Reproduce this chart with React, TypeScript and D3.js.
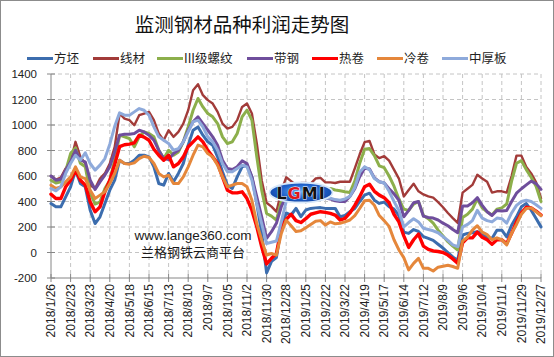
import React from "react";
import * as d3 from "d3";

// ---- categories (weekly, 2018/1/26 .. 2019/12/27) ----
const START = new Date(2018, 0, 26);
const fmtDate = d3.timeFormat("%Y/%-m/%-d");
const categories: string[] = d3.range(101).map((i) => fmtDate(d3.timeDay.offset(START, 7 * i)));
const tickStep = 4;
const yTicks = [-200, 0, 200, 400, 600, 800, 1000, 1200, 1400];

// ---- series values ----
const fangpi = [
  384, 358, 358, 436, 515, 646, 541, 515, 332, 227, 280, 384, 489, 567, 724, 698, 698, 724, 763, 763,
  750, 672, 541, 528, 620, 554, 620, 698, 842, 959, 985, 920, 868, 842, 750, 633, 528, 502, 593, 672,
  685, 593, 384, 149, -160, -70, -40, 200, 310,
  294, 346, 281, 333, 346, 350, 352, 346, 346, 346, 281, 290, 320, 346, 400, 450, 465, 410, 385, 395, 360,
  340, 290, 160, 150, 180, 165, 125, 110, 95, 65, 35, 0, -35, -60, 137, 150, 155, 163, 150, 115,
  110, 175, 175, 123, 214, 280, 358, 384, 332, 267, 201,
];
const xiancai = [
  600, 572, 588, 660, 711, 868, 750, 698, 528, 502, 580, 620, 698, 829, 1090, 1050, 1038, 998, 1077, 1090,
  1103, 1038, 933, 881, 959, 907, 946, 1011, 1116, 1273, 1320, 1234, 1195, 1168, 1103, 1011, 972, 985, 1038, 1142,
  1168, 1090, 855, 567, 390, 360, 320, 480, 590,
  560, 530, 545, 545, 540, 580, 585, 550, 550, 545, 555, 555, 555,
  660, 770, 865, 875, 770, 740, 755, 720,
  650, 580, 440, 490, 540, 480, 455, 440, 430, 395, 355, 310, 270, 232, 470, 500, 530, 610, 580, 555,
  470, 480, 480, 470, 600, 760, 760, 670, 620, 550, 425,
];
const luowen = [
  567, 545, 555, 640, 776, 820, 700, 672, 470, 380, 397, 502, 567, 724, 920, 907, 894, 829, 907, 946,
  933, 907, 802, 737, 802, 763, 789, 868, 985, 1116, 1208, 1142, 1090, 1064, 1011, 907, 855, 868, 933, 1064,
  1116, 1038, 750, 489, 306, 285, 254, 400, 500,
  505, 495, 510, 500, 490, 505, 500, 495, 502, 490, 485, 477, 470,
  560, 700, 810, 815, 760, 680, 665, 600,
  520, 420, 340, 330, 380, 400, 290, 265, 230, 175, 130, 85, 50, 20, 275, 300, 340, 420, 350, 320,
  295, 340, 350, 380, 560, 700, 720, 650, 590, 520, 400,
];
const daigang = [
  600, 567, 575, 646, 711, 802, 724, 711, 567, 494, 554, 607, 672, 789, 920, 928, 928, 933, 959, 946,
  920, 881, 802, 737, 729, 776, 802, 868, 959, 1025, 1064, 1011, 959, 907, 842, 724, 659, 651, 672, 719,
  698, 593, 436, 280, 111, 163, 229, 359, 440,
  470, 480, 470, 460, 455, 450, 445, 430, 420, 405, 400, 400, 440, 500, 595, 660, 655, 585, 555, 545, 500,
  460, 410, 280, 330, 390, 400, 285, 275, 270, 255, 230, 210, 180, 155, 365, 365, 390, 430, 370, 320,
  290, 330, 325, 330, 400, 465, 500, 530, 560, 540, 495,
];
const rejuan = [
  457, 423, 423, 515, 567, 646, 567, 528, 397, 319, 358, 476, 567, 690, 830, 845, 850, 860, 920, 905,
  880, 810, 763, 724, 763, 672, 698, 750, 829, 868, 907, 868, 802, 750, 698, 593, 489, 468, 468, 476,
  423, 332, 201, 44, -90, -45, -8, 190, 260,
  300, 250, 235, 265, 300, 310, 320, 315, 307, 294, 255, 268, 310, 370, 438, 516, 535, 480, 450, 430, 390,
  300, 240, 130, 40, 100, 145, 50, 25, 12, 8, 0, -20, -50, -85, 75, 115, 115, 160, 120, 100,
  65, 100, 100, 70, 150, 240, 310, 355, 350, 325, 293,
];
const lengjuan = [
  528, 502, 515, 554, 593, 672, 593, 580, 489, 423, 450, 476, 541, 620, 724, 698, 693, 703, 737, 755,
  745, 698, 620, 593, 606, 541, 541, 593, 672, 763, 842, 829, 776, 750, 685, 593, 515, 528, 541, 541,
  515, 410, 227, 97, -21, -8, -21, 149, 254,
  210, 165, 170, 195, 220, 245, 250, 215, 240, 225, 230, 240, 255, 290, 345, 405, 410, 370, 290, 250, 205,
  100, 20, -40, -137, -85, -46, -124, -124, -145, -115, -108, -100, -110, -124, 90, 120, 175, 210, 160, 140,
  100, 115, 100, 60, 150, 220, 300, 345, 350, 320, 290,
];
const zhonghouban = [
  502, 484, 515, 620, 698, 763, 724, 782, 698, 646, 685, 737, 850, 990, 1095, 1077, 1077, 1103, 1129, 1116,
  1077, 985, 907, 881, 855, 802, 815, 868, 946, 1025, 1038, 985, 907, 868, 802, 698, 633, 633, 659, 685,
  672, 567, 384, 227, 70, 80, 90, 240, 400,
  440, 450, 445, 440, 440, 435, 430, 425, 425, 415, 410, 420, 440, 510, 630, 672, 650, 580, 555, 545, 480,
  400, 330, 200, 235, 265, 240, 190, 180, 170, 155, 125, 95, 60, 46, 200, 220, 250, 330, 270, 250,
  240, 270, 265, 230, 310, 370, 400, 410, 400, 375, 346,
];

const seriesNames = ["方坯", "线材", "III级螺纹", "带钢", "热卷", "冷卷", "中厚板"];
const seriesValues = [fangpi, xiancai, luowen, daigang, rejuan, lengjuan, zhonghouban];
const seriesColors = ["#3C6DAE", "#A23B39", "#8CAF4B", "#6F4E9C", "#FF0000", "#E5873B", "#8EAADB"];
const seriesWidths = [3, 2.4, 3, 3, 3.4, 3, 3];

const W = 554;
const H = 357;
const LEFT = 51;
const RIGHT = 541;
const TOP = 74;
const BOTTOM = 278;
const legendX = [27, 93, 157, 247, 312, 377, 442];

const CJK = "'Noto Sans CJK SC', 'Noto Sans', sans-serif";
const LATIN = "'Liberation Sans', Arial, sans-serif";

export default function App() {
  const x = d3.scalePoint<string>().domain(categories).range([LEFT, RIGHT]);
  const y = d3.scaleLinear().domain([-200, 1400]).range([BOTTOM, TOP]);
  const line = d3
    .line<number>()
    .x((_, i) => x(categories[i]) as number)
    .y((d) => y(d));

  const tickCats = categories.filter((_, i) => i % tickStep === 0);

  return (
    <svg
      width={W}
      height={H}
      viewBox={`0 0 ${W} ${H}`}
      style={{ position: "absolute", left: 0, top: 0, background: "#fff" }}
    >
      <defs>
        <radialGradient id="lgmi" cx="50%" cy="45%" r="60%">
          <stop offset="0" stopColor="#6fb0f5" />
          <stop offset="0.55" stopColor="#1f62cc" />
          <stop offset="1" stopColor="#0f3f9c" />
        </radialGradient>
      </defs>
      <rect x={0.5} y={0.5} width={W - 1} height={H - 1} fill="#fff" stroke="#8c8c8c" />

      {/* title */}
      <text x={242} y={32} textAnchor="middle" fontFamily={CJK} fontSize={19.5} fill="#111">
        监测钢材品种利润走势图
      </text>

      {/* legend */}
      {seriesNames.map((n, k) => (
        <g key={n}>
          <line x1={legendX[k]} x2={legendX[k] + 26} y1={58.5} y2={58.5} stroke={seriesColors[k]} strokeWidth={3} />
          <text x={legendX[k] + 27} y={63} fontFamily={CJK} fontSize={12.5} fill="#222">
            {n}
          </text>
        </g>
      ))}

      {/* grid */}
      {yTicks.filter((t) => t > -200).map((t) => (
        <line key={"h" + t} x1={LEFT} x2={RIGHT} y1={y(t)} y2={y(t)} stroke="#c4c4c4" strokeDasharray="4 3" />
      ))}
      {tickCats.slice(1).map((c) => (
        <line key={"v" + c} x1={x(c)} x2={x(c)} y1={TOP} y2={BOTTOM} stroke="#c4c4c4" strokeDasharray="4 3" />
      ))}

      {/* axes */}
      <line x1={LEFT} x2={LEFT} y1={TOP} y2={BOTTOM} stroke="#868686" />
      <line x1={LEFT} x2={RIGHT} y1={BOTTOM} y2={BOTTOM} stroke="#868686" />
      {yTicks.map((t) => (
        <g key={"yt" + t}>
          <line x1={LEFT - 4} x2={LEFT + 4} y1={y(t)} y2={y(t)} stroke="#868686" />
          <text x={37} y={y(t) + 4} textAnchor="end" fontFamily={LATIN} fontSize={11.5} fill="#222">
            {t}
          </text>
        </g>
      ))}
      {tickCats.map((c) => (
        <g key={"xt" + c}>
          <line x1={x(c)} x2={x(c)} y1={BOTTOM - 4} y2={BOTTOM + 4} stroke="#868686" />
          <text
            transform={`translate(${(x(c) as number) + 4.2},284) rotate(-90)`}
            textAnchor="end"
            fontFamily={LATIN}
            fontSize={12}
            fill="#222"
          >
            {c}
          </text>
        </g>
      ))}

      {/* series */}
      {seriesValues.map((vals, k) => (
        <path
          key={seriesNames[k]}
          d={line(vals) || ""}
          fill="none"
          stroke={seriesColors[k]}
          strokeWidth={seriesWidths[k]}
          strokeLinejoin="round"
          strokeLinecap="round"
        />
      ))}

      {/* watermark */}
      <text x={193} y={240} textAnchor="middle" fontFamily={LATIN} fontSize={13.5} fill="#1a1a1a">
        www.lange360.com
      </text>
      <text x={193} y={257} textAnchor="middle" fontFamily={CJK} fontSize={13} fill="#1a1a1a">
        兰格钢铁云商平台
      </text>

      {/* LGMI logo */}
      <g>
        <ellipse cx={301} cy={192.5} rx={31.5} ry={10} fill="url(#lgmi)" stroke="#d8e8fa" strokeWidth={1.8} />
        <text
          x={301}
          y={199}
          textAnchor="middle"
          fontFamily="'DejaVu Sans', sans-serif"
          fontWeight="bold"
          fontSize={16}
          letterSpacing={1}
          stroke="#fff"
          strokeWidth={0.8}
          style={{ paintOrder: "stroke" }}
        >
          <tspan fill="#111">L</tspan>
          <tspan fill="#e0161b">G</tspan>
          <tspan fill="#111">M</tspan>
          <tspan fill="#111">I</tspan>
        </text>
      </g>
    </svg>
  );
}
